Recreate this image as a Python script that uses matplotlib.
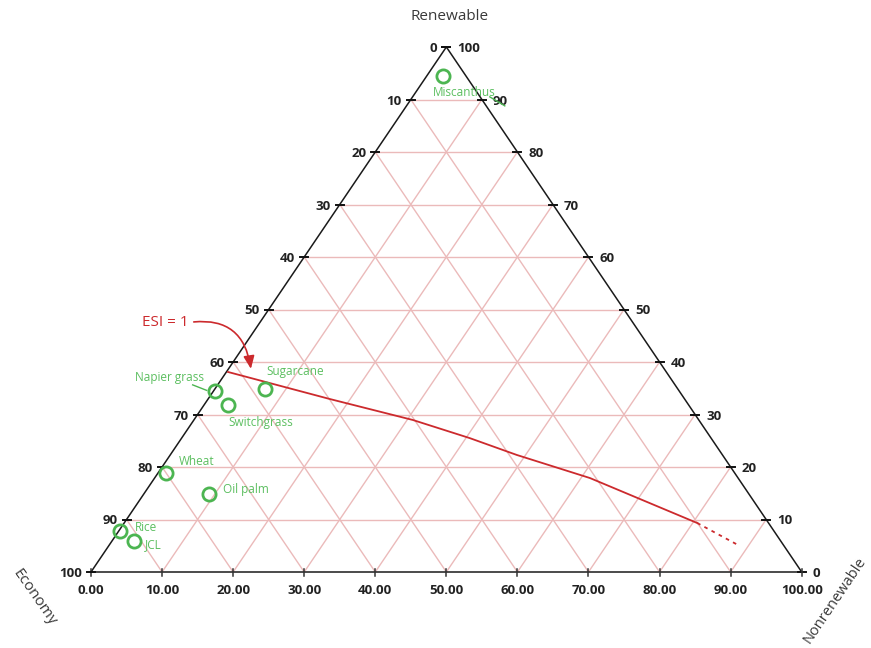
import numpy as np
import matplotlib
matplotlib.use("Agg")
import matplotlib.pyplot as plt

plt.rcParams['font.family'] = ['Open Sans', 'DejaVu Sans']

# crops: position on the bottom scale (0-100) and height on the right scale (0-100)
crops = ["Miscanthus", "Napier grass", "Sugarcane", "Switchgrass",
         "Wheat", "Oil palm", "Rice", "JCL"]
crop_x = [49.5, 17.4, 24.5, 19.3, 10.55, 16.6, 4.1, 6.05]
crop_h = [94.5, 34.5, 34.9, 31.8, 18.9, 14.9, 7.8, 5.9]
# label offsets in pixels (dx, dy, ha)
lab_off = [(-10, -17, 'left'), (-11, 13, 'right'), (1, 17, 'left'), (0, -17, 'left'),
           (13, 11, 'left'), (14, 4, 'left'), (15, 4, 'left'), (11, -4, 'left')]

# ESI = 1 line
esi_x = [19.28, 33.6, 45.3, 53.3, 59.9, 70.2, 85.3]
esi_h = [38.1, 32.95, 28.95, 25.5, 22.3, 17.9, 9.33]
esi_ext_x = [85.3, 91.3]
esi_ext_h = [9.33, 4.95]

ticks = np.arange(0, 101, 10)

W, H = 871, 648
fig = plt.figure(figsize=(W / 100, H / 100), dpi=100)
L, R, B, T = 91, 801.7, 572, 47
ax = fig.add_axes([L / W, 1 - B / H, (R - L) / W, (B - T) / H])
ax.set_xlim(0, 100)
ax.set_ylim(0, 100)
ax.axis('off')
sx = (R - L) / 100.0   # px per unit
sy = (B - T) / 100.0

grid_c = '#ebbaba'
for i in ticks[1:-1]:
    ax.plot([i / 2, 100 - i / 2], [i, i], color=grid_c, lw=1.0, zorder=1)
    ax.plot([i, i + 50 * (100 - i) / 100], [0, 100 - i], color=grid_c, lw=1.0, zorder=1)
    ax.plot([i, i / 2], [0, i], color=grid_c, lw=1.0, zorder=1)

# triangle
ax.plot([0, 100, 50, 0], [0, 0, 100, 0], color='#1a1a1a', lw=1.1, zorder=3, clip_on=False)

tick_c = '#333333'
fs = 9.5
for i in ticks:
    ax.plot([i, i], [-3.5 / sy, 3.5 / sy], color=tick_c, lw=1.1, zorder=3, clip_on=False)
    ax.text(i, -18 / sy, f"{i:.2f}", ha='center', va='center', fontsize=fs,
            fontweight='bold', color='#222222')
    lx = i / 2
    ax.plot([lx - 4 / sx, lx + 4 / sx], [i, i], color='#111111', lw=1.4, zorder=3, clip_on=False)
    ax.text(lx - 9 / sx, i - 1.5 / sy, f"{100 - i}", ha='right', va='center', fontsize=fs,
            fontweight='bold', color='#222222')
    rx = 100 - i / 2
    ax.plot([rx - 4 / sx, rx + 4 / sx], [i, i], color='#111111', lw=1.4, zorder=3, clip_on=False)
    ax.text(rx + 11 / sx, i - 1.5 / sy, f"{i}", ha='left', va='center', fontsize=fs,
            fontweight='bold', color='#222222')

# ESI line
red = '#cc2a2d'
ax.plot(esi_x, esi_h, color=red, lw=1.3, zorder=4)
ax.plot(esi_ext_x, esi_ext_h, color=red, lw=1.3, ls=(0, (2, 2.5)), zorder=4)

ax.annotate("ESI = 1", xy=(22.5, 38.7), xytext=(10.4, 47.5), ha='center', va='center',
            fontsize=11, color=red,
            arrowprops=dict(arrowstyle='-|>,head_length=0.7,head_width=0.3', color=red, lw=1.2,
                            connectionstyle='arc3,rad=-0.5', relpos=(1, 0.5),
                            shrinkA=2, shrinkB=0))

# crops
green = '#4cb551'
ax.plot(crop_x, crop_h, 'o', ms=9.5, mfc='none', mec=green, mew=2.0, zorder=5, clip_on=False)
for name, x, h, (dx, dy, ha) in zip(crops, crop_x, crop_h, lab_off):
    ax.annotate(name, xy=(x, h), xytext=(dx, dy), textcoords='offset pixels',
                ha=ha, va='center', fontsize=8.5, color='#5cbf60', zorder=6)

# leader strokes
ax.plot([crop_x[0] + 47 / sx, crop_x[0] + 62 / sx], [crop_h[0] - 21 / sy, crop_h[0] - 30 / sy],
        color=green, lw=1.0, zorder=6, clip_on=False)
ax.plot([crop_x[1] - 22 / sx, crop_x[1] - 8 / sx], [crop_h[1] + 6 / sy, crop_h[1] + 0.5 / sy],
        color=green, lw=1.0, zorder=6, clip_on=False)

# axis titles
fig.text(450 / W, 1 - 17 / H, "Renewable", ha='center', va='center', fontsize=11, color='#3a3a3a')
fig.text(34 / W, 1 - 597 / H, "Economy", ha='center', va='center', fontsize=11,
         color='#3a3a3a', rotation=-55, rotation_mode='anchor')
fig.text(835 / W, 1 - 600 / H, "Nonrenewable", ha='center', va='center', fontsize=10.5,
         color='#3a3a3a', rotation=56, rotation_mode='anchor')

fig.savefig("out.png", dpi=100)
